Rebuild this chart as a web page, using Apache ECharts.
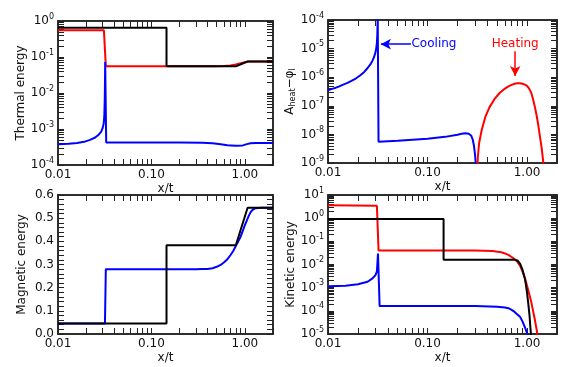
<!DOCTYPE html>
<html>
<head>
<meta charset="utf-8">
<script src="https://cdn.jsdelivr.net/npm/echarts@6/dist/echarts.min.js"></script>
<style>
html, body { margin: 0; padding: 0; background: #fff; }
#main { width: 568px; height: 367px; }
</style>
</head>
<body>
<div id="main"></div>
<script>
var dom = document.getElementById('main');
var myChart = echarts.init(dom);

// panel 1: thermal energy, [x/t, value]
var thermalRed = [[0.01,0.55],[0.031,0.55],[0.0325,0.055],[0.5,0.055],[0.6,0.056],[0.7,0.058],[0.8,0.062],[0.9,0.067],[1.0,0.072],[1.1,0.075],[2,0.075]];
var thermalBlue = [[0.01,3.8e-4],[0.013,3.9e-4],[0.016,4.1e-4],[0.019,4.4e-4],[0.022,5e-4],[0.025,5.8e-4],[0.027,6.8e-4],[0.029,8.5e-4],[0.030,1.05e-3],[0.0308,1.4e-3],[0.0313,2.2e-3],[0.0317,8e-3],[0.032,0.072],[0.0323,0.01],[0.0328,4.2e-4],[0.2,4.2e-4],[0.35,4.15e-4],[0.45,4e-4],[0.55,3.75e-4],[0.65,3.55e-4],[0.8,3.4e-4],[0.95,3.5e-4],[1.05,3.8e-4],[1.15,4e-4],[1.3,4.1e-4],[2,4.1e-4]];
var thermalBlack = [[0.01,0.65],[0.145,0.65],[0.145,0.055],[0.8,0.055],[1.07,0.075],[2,0.075]];

// panel 2: A_heat - phi_l
var heatBlue = [[0.01,3.5e-7],[0.011,3.9e-7],[0.012,4.3e-7],[0.013,4.8e-7],[0.014,5.4e-7],[0.0155,6.2e-7],[0.017,7.3e-7],[0.019,9e-7],[0.021,1.15e-6],[0.023,1.5e-6],[0.025,2.1e-6],[0.027,3e-6],[0.028,3.8e-6],[0.029,5e-6],[0.030,7.5e-6],[0.0305,1e-5],[0.031,1.6e-5],[0.0313,3e-5],[0.0316,1.2e-4],[0.032,1.2e-4],[0.0322,5.5e-9],[0.05,6e-9],[0.1,7e-9],[0.15,8.2e-9],[0.2,9.8e-9],[0.22,1.05e-8],[0.24,1.1e-8],[0.26,1.05e-8],[0.275,9e-9],[0.285,6.5e-9],[0.293,4e-9],[0.3,2e-9],[0.305,1e-9],[0.31,4e-10]];
var heatRed = [[0.315,5e-10],[0.32,1.5e-9],[0.33,5e-9],[0.35,1.4e-8],[0.38,4e-8],[0.42,9e-8],[0.47,1.7e-7],[0.53,2.8e-7],[0.6,4e-7],[0.65,4.8e-7],[0.7,5.4e-7],[0.75,5.9e-7],[0.8,6.1e-7],[0.85,6.1e-7],[0.9,5.9e-7],[0.95,5.5e-7],[1.0,5e-7],[1.05,4e-7],[1.1,2.9e-7],[1.15,1.7e-7],[1.2,9e-8],[1.25,4.5e-8],[1.3,2e-8],[1.35,8e-9],[1.4,3.5e-9],[1.45,1.2e-9],[1.5,3e-10]];

// panel 3: magnetic energy
var magBlue = [[0.01,0.045],[0.0318,0.045],[0.0325,0.28],[0.3,0.28],[0.35,0.2805],[0.4,0.281],[0.45,0.284],[0.5,0.29],[0.55,0.298],[0.6,0.31],[0.65,0.323],[0.7,0.34],[0.75,0.358],[0.8,0.38],[0.85,0.4],[0.9,0.42],[0.95,0.445],[1.0,0.47],[1.05,0.49],[1.1,0.51],[1.15,0.525],[1.2,0.535],[1.25,0.54],[1.3,0.543],[1.5,0.545],[2,0.545]];
var magBlack = [[0.01,0.045],[0.145,0.045],[0.145,0.383],[0.8,0.383],[1.07,0.545],[2,0.545]];

// panel 4: kinetic energy
var kinRed = [[0.01,3.6],[0.031,3.4],[0.0322,0.04],[0.3,0.04],[0.45,0.038],[0.55,0.034],[0.6,0.03],[0.65,0.026],[0.7,0.021],[0.75,0.017],[0.8,0.013],[0.85,0.009],[0.9,0.005],[0.95,0.0027],[1.0,0.0012],[1.05,5.5e-4],[1.1,2.5e-4],[1.15,1e-4],[1.2,4e-5],[1.25,1.5e-5],[1.3,5e-6]];
var kinBlue = [[0.01,1.15e-3],[0.015,1.2e-3],[0.02,1.4e-3],[0.025,1.8e-3],[0.028,2.5e-3],[0.030,3.5e-3],[0.031,5e-3],[0.0318,0.03],[0.0322,0.005],[0.033,1.6e-4],[0.3,1.6e-4],[0.5,1.5e-4],[0.6,1.4e-4],[0.65,1.3e-4],[0.7,1.1e-4],[0.75,9e-5],[0.8,7e-5],[0.85,5.5e-5],[0.9,3.5e-5],[0.95,2e-5],[1.0,1.1e-5],[1.02,9e-6],[1.06,4e-6]];
var kinBlack = [[0.01,0.93],[0.145,0.93],[0.145,0.016],[0.75,0.016],[0.8,0.015],[0.85,0.011],[0.9,0.006],[0.95,0.0025],[0.97,0.0015],[1.0,6e-4],[1.03,2e-4],[1.06,6e-5],[1.08,2e-5],[1.12,3e-6]];

var xTicks = ['0.01', '0.10', '1.00'];
var yNames = ['Thermal energy', '', 'Magnetic energy', 'Kinetic energy'];

var FONT = 'DejaVu Sans';
var grids = [
    {left: 58, top: 21, width: 215, height: 144},
    {left: 328, top: 20, width: 229, height: 143},
    {left: 58, top: 195, width: 215, height: 139},
    {left: 328, top: 195, width: 229, height: 139}
];
var yRanges = [[1e-4, 1], [1e-9, 1e-4], [0, 0.6], [1e-5, 10]];

// minor tick positions 1..9 x 10^k inside [lo, hi]
function logMinor(lo, hi) {
    var out = [];
    for (var k = Math.floor(Math.log(lo) / Math.LN10); k <= Math.ceil(Math.log(hi) / Math.LN10); k++) {
        for (var m = 2; m <= 9; m++) {
            var v = m * Math.pow(10, k);
            if (v > lo * 1.0001 && v < hi * 0.9999) out.push(v);
        }
    }
    return out;
}
function linMinor(lo, hi, step) {
    var out = [];
    var n = Math.round((hi - lo) / step);
    for (var j = 0; j <= n; j++) out.push(+(lo + j * step).toFixed(4));
    return out;
}

function powLabel(v) {
    var e = Math.round(Math.log(v) / Math.LN10);
    if (Math.abs(Math.log(v) / Math.LN10 - e) > 1e-6) return '';
    return '{b|10}{s|' + e + '}';
}
var supRich = {
    b: {fontFamily: FONT, fontSize: 12, color: '#111'},
    s: {fontFamily: FONT, fontSize: 8, color: '#111', padding: [0, 0, 9, 0]}
};

var AXIS_LINE = {show: true, onZero: false, lineStyle: {color: '#222', width: 1.5}};
var xAxes = [], yAxes = [];
grids.forEach(function (g, i) {
    var base = {
        gridIndex: i, type: 'log', logBase: 10, min: 0.01, max: 2,
        axisLine: AXIS_LINE,
        axisTick: {show: true, inside: true, length: 6, lineStyle: {color: '#222'}},
        splitLine: {show: false}
    };
    xAxes.push(echarts.util.merge({
        position: 'bottom',
        name: 'x/t', nameLocation: 'middle', nameGap: 18,
        nameTextStyle: {fontFamily: FONT, fontSize: 12, color: '#111'},
        axisLabel: {
            fontFamily: FONT, fontSize: 12, color: '#111', margin: 4,
            formatter: function (v) {
                var e = Math.log(v) / Math.LN10;
                if (Math.abs(e - Math.round(e)) > 1e-6) return '';
                return xTicks[Math.round(e) + 2];
            }
        }
    }, base, true));
    xAxes.push(echarts.util.merge({position: 'top', axisLabel: {show: false}}, base, true));
    ['bottom', 'top'].forEach(function (p) {
        xAxes.push(echarts.util.merge({
            position: p, axisLabel: {show: false},
            axisTick: {length: 3, customValues: logMinor(0.01, 2)}
        }, base, true));
    });

    var r = yRanges[i];
    var isLog = i !== 2;
    var ybase = {
        gridIndex: i, type: isLog ? 'log' : 'value', min: r[0], max: r[1],
        axisLine: AXIS_LINE,
        axisTick: {show: true, inside: true, length: 6, lineStyle: {color: '#222'}},
        splitLine: {show: false}
    };
    if (isLog) { ybase.logBase = 10; } else { ybase.interval = 0.1; }
    var yl = echarts.util.merge({
        position: 'left',
        nameLocation: 'middle', nameGap: 30,
        nameTextStyle: {fontFamily: FONT, fontSize: 12, color: '#111'},
        axisLabel: isLog ? {formatter: powLabel, rich: supRich, margin: 4} :
            {fontFamily: FONT, fontSize: 12, color: '#111', margin: 4, formatter: function (v) { return v.toFixed(1); }}
    }, ybase, true);
    if (i === 1) {
        yl.name = '{n|A}{sub|heat}{n|\u2212\u03c6}{sub|l}';
        yl.nameTextStyle.rich = {
            n: {fontFamily: FONT, fontSize: 12, color: '#111'},
            sub: {fontFamily: FONT, fontSize: 8, color: '#111', padding: [6, 0, 0, 0]}
        };
    } else {
        yl.name = yNames[i];
    }
    yAxes.push(yl);
    yAxes.push(echarts.util.merge({position: 'right', axisLabel: {show: false}}, ybase, true));
    var minorVals = isLog ? logMinor(r[0], r[1]) : linMinor(r[0], r[1], 0.02);
    ['left', 'right'].forEach(function (p) {
        yAxes.push(echarts.util.merge({
            position: p, axisLabel: {show: false},
            axisTick: {length: 3, customValues: minorVals}
        }, ybase, true));
    });
});

function line(data, color, gi) {
    return {
        type: 'line', xAxisIndex: gi * 4, yAxisIndex: gi * 4, data: data,
        showSymbol: false, symbol: 'none', clip: true, animation: false,
        lineStyle: {color: color, width: 2}, itemStyle: {color: color}
    };
}

var coolSeries = line(heatBlue, '#0000ff', 1);
coolSeries.markLine = {
    silent: true, animation: false, symbol: ['none', 'arrow'], symbolSize: [8, 10],
    label: {show: false},
    lineStyle: {color: '#0000ff', width: 1.5, type: 'solid'},
    data: [[{coord: [0.068, 1.43e-5]}, {coord: [0.034, 1.43e-5]}]]
};
coolSeries.markPoint = {
    silent: true, animation: false, symbolSize: 0,
    label: {show: true, position: 'right', distance: 0, formatter: 'Cooling', fontFamily: FONT, fontSize: 12, color: '#0000ff'},
    data: [{coord: [0.069, 1.43e-5]}]
};
var heatSeries = line(heatRed, '#ff0000', 1);
heatSeries.markLine = {
    silent: true, animation: false, symbol: ['none', 'arrow'], symbolSize: [8, 10],
    label: {show: false},
    lineStyle: {color: '#ff0000', width: 1.5, type: 'solid'},
    data: [[{coord: [0.76, 8e-6]}, {coord: [0.76, 1.1e-6]}]]
};
heatSeries.markPoint = {
    silent: true, animation: false, symbolSize: 0,
    label: {show: true, position: 'top', distance: 0, formatter: 'Heating', fontFamily: FONT, fontSize: 12, color: '#ff0000'},
    data: [{coord: [0.76, 9e-6]}]
};

var option = {
    backgroundColor: '#fff',
    animation: false,
    grid: grids,
    xAxis: xAxes,
    yAxis: yAxes,
    series: [
        line(thermalRed, '#ff0000', 0),
        line(thermalBlue, '#0000ff', 0),
        line(thermalBlack, '#000000', 0),
        coolSeries,
        heatSeries,
        line(magBlue, '#0000ff', 2),
        line(magBlack, '#000000', 2),
        line(kinRed, '#ff0000', 3),
        line(kinBlue, '#0000ff', 3),
        line(kinBlack, '#000000', 3)
    ]
};
myChart.setOption(option);
</script>
</body>
</html>
